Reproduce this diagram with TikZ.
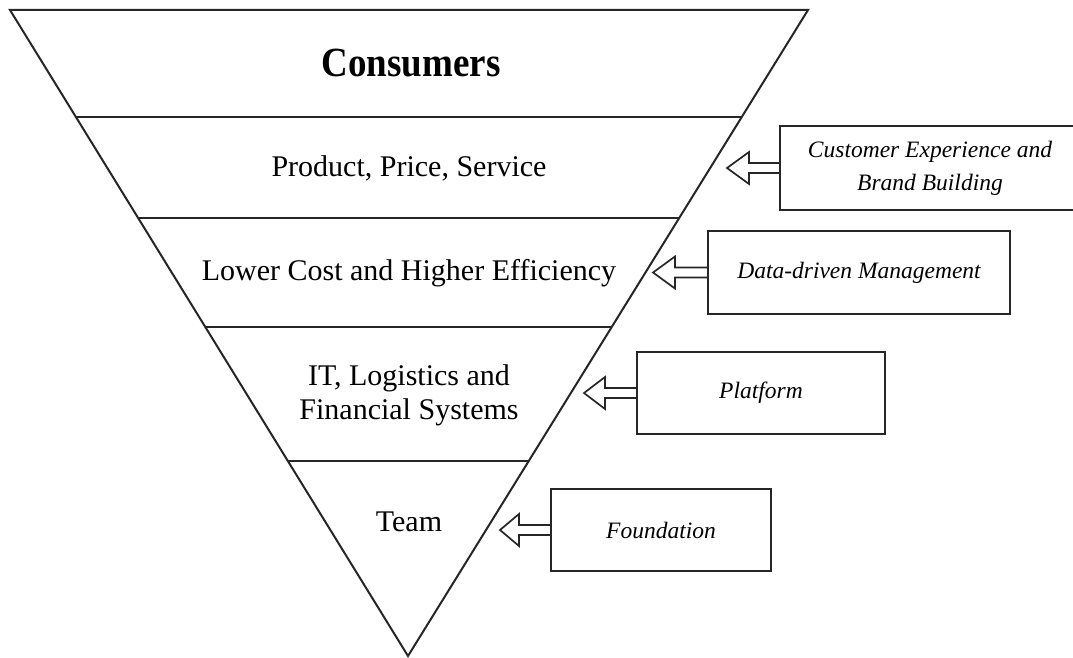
\documentclass[tikz,border=0pt]{standalone}
\usepackage{fontspec}
\setmainfont{Liberation Serif}
\usetikzlibrary{calc}

\definecolor{inkgray}{HTML}{262626}
\tikzset{
	layertext/.style={align=center, font=\fontsize{30}{34}\selectfont},
	sidebox/.style={draw=inkgray, line width=2pt, minimum height=83pt, align=center, font=\fontsize{23.5}{33}\selectfont\itshape},
	hollowarrow/.style={draw=inkgray, line width=1.7pt, line join=miter},
}

\begin{document}
\begin{tikzpicture}[x=1pt, y=-1pt]
	\useasboundingbox (0,0) rectangle (1073,658);
	\coordinate (tl) at (10,10);
	\coordinate (tr) at (808,10);
	\coordinate (apex) at (408,656);
	\draw[draw=inkgray, line width=2pt, line join=miter] (tl) -- (tr) -- (apex) -- cycle;
	\draw[draw=inkgray, line width=2pt] ($(tl)!0.1656!(apex)$) -- ($(tr)!0.1656!(apex)$);
	\draw[draw=inkgray, line width=2pt] ($(tl)!0.322!(apex)$) -- ($(tr)!0.322!(apex)$);
	\draw[draw=inkgray, line width=2pt] ($(tl)!0.4907!(apex)$) -- ($(tr)!0.4907!(apex)$);
	\draw[draw=inkgray, line width=2pt] ($(tl)!0.698!(apex)$) -- ($(tr)!0.698!(apex)$);

	\node (consumers) at (411,63) [yscale=1.12, font=\fontsize{37}{40}\selectfont\bfseries] {Consumers};
	\node (product) at (409,168) [layertext] {Product, Price, Service};
	\node (cost) at (409,273) [layertext] {Lower Cost and Higher Efficiency};
	\node (systems) at (409,395) [layertext] {IT, Logistics and\\Financial Systems};
	\node (team) at (409,522) [layertext] {Team};

	\node (brand) at (930,168) [sidebox, minimum width=300pt] {Customer Experience and\\Brand Building};
	\node (data) at (859,272.5) [sidebox, minimum width=302pt] {Data-driven Management};
	\node (platform) at (761,393) [sidebox, minimum width=248pt, minimum height=82pt] {Platform};
	\node (foundation) at (661,530) [sidebox, minimum width=220pt, minimum height=82pt] {Foundation};

	\coordinate (tipbrand) at (727,168);
	\coordinate (tipdata) at (653,272.5);
	\coordinate (tipplatform) at (584,393);
	\coordinate (tipfoundation) at (500,530);

	\draw[hollowarrow] ($(brand.west)+(0,-5)$) -- ($(tipbrand)+(22,-5)$) -- ($(tipbrand)+(22,-16)$) -- (tipbrand) -- ($(tipbrand)+(22,16)$) -- ($(tipbrand)+(22,5)$) -- ($(brand.west)+(0,5)$);
	\draw[hollowarrow] ($(data.west)+(0,-5)$) -- ($(tipdata)+(22,-5)$) -- ($(tipdata)+(22,-16)$) -- (tipdata) -- ($(tipdata)+(22,16)$) -- ($(tipdata)+(22,5)$) -- ($(data.west)+(0,5)$);
	\draw[hollowarrow] ($(platform.west)+(0,-5)$) -- ($(tipplatform)+(21,-5)$) -- ($(tipplatform)+(21,-16)$) -- (tipplatform) -- ($(tipplatform)+(21,16)$) -- ($(tipplatform)+(21,5)$) -- ($(platform.west)+(0,5)$);
	\draw[hollowarrow] ($(foundation.west)+(0,-5)$) -- ($(tipfoundation)+(19,-5)$) -- ($(tipfoundation)+(19,-16)$) -- (tipfoundation) -- ($(tipfoundation)+(19,16)$) -- ($(tipfoundation)+(19,5)$) -- ($(foundation.west)+(0,5)$);
\end{tikzpicture}
\end{document}
